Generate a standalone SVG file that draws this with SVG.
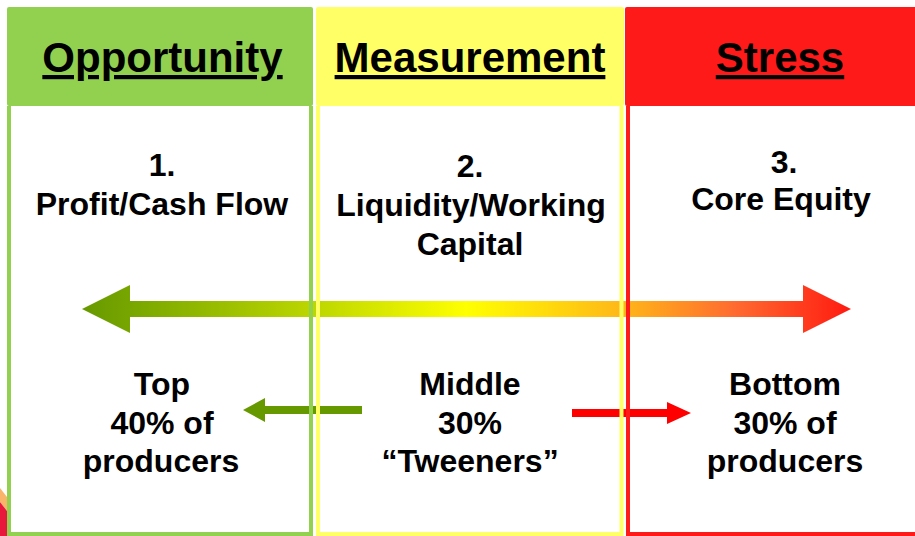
<svg xmlns="http://www.w3.org/2000/svg" width="915" height="536" viewBox="0 0 915 536">
  <defs>
    <linearGradient id="spectrum" gradientUnits="userSpaceOnUse" x1="82" y1="0" x2="851" y2="0">
      <stop offset="0" stop-color="#669900"/>
      <stop offset="0.3" stop-color="#bcd600"/>
      <stop offset="0.5" stop-color="#ffff00"/>
      <stop offset="0.7" stop-color="#ffb818"/>
      <stop offset="0.85" stop-color="#ff6a30"/>
      <stop offset="1" stop-color="#ff1a10"/>
    </linearGradient>
    <style>
      .title { font-family: "Liberation Sans", Arial, sans-serif; font-weight: bold; font-size: 42px; text-anchor: middle; fill: #000; text-decoration: underline; }
      .body { font-family: "Liberation Sans", Arial, sans-serif; font-weight: bold; font-size: 32px; text-anchor: middle; fill: #000; }
      .frame { fill: none; stroke-width: 4; }
    </style>
  </defs>

  <rect width="915" height="536" fill="#ffffff"/>

  <!-- corner ornament at lower left -->
  <polygon points="0,488 7,497 7,511 0,502" fill="#f9b36b"/>
  <polygon points="0,502 7,511 7,536 0,536" fill="#e8183c"/>

  <!-- column bodies -->
  <g id="col-opportunity-bg">
    <rect x="7" y="7" width="306" height="99" rx="2" fill="#92d050"/>
    <rect x="11" y="106" width="298" height="427" fill="#ffffff"/>
  </g>
  <g id="col-measurement-bg">
    <rect x="316" y="7" width="308" height="99" rx="2" fill="#ffff66"/>
    <rect x="320" y="106" width="299" height="427" fill="#ffffff"/>
  </g>
  <g id="col-stress-bg">
    <rect x="625" y="7" width="300" height="99" rx="2" fill="#ff1a1a"/>
    <rect x="630" y="106" width="295" height="427" fill="#ffffff"/>
  </g>

  <!-- connectors -->
  <g id="connectors">
    <polygon id="spectrum-arrow" fill="url(#spectrum)"
      points="82,309 130,285 130,301 803,301 803,285 851,309 803,333 803,317 130,317 130,333"/>
    <polygon id="arrow-to-top" fill="#669900"
      points="243,410 265,398 265,406 362,406 362,414 265,414 265,422"/>
    <polygon id="arrow-to-bottom" fill="#ff0000"
      points="572,409 667,409 667,402 691,413 667,424 667,417 572,417"/>
  </g>

  <!-- column frames drawn over the arrows -->
  <g id="frames">
    <path class="frame" stroke="#92d050" d="M9,106 V534 H311 V106"/>
    <path class="frame" stroke="#ffff66" d="M318,106 V534 H621.5 V106"/>
    <path class="frame" stroke="#ff1a1a" d="M628,106 V534 H925"/>
  </g>

  <g id="opportunity">
    <text class="title" x="162.5" y="72">Opportunity</text>
    <text class="body" x="162" y="176">1.</text>
    <text class="body" x="162" y="215">Profit/Cash Flow</text>
    <text class="body" x="162" y="395">Top</text>
    <text class="body" x="162" y="434">40% of</text>
    <text class="body" x="161" y="472">producers</text>
  </g>

  <g id="measurement">
    <text class="title" x="470" y="72">Measurement</text>
    <text class="body" x="470" y="177">2.</text>
    <text class="body" x="471" y="216">Liquidity/Working</text>
    <text class="body" x="470" y="255">Capital</text>
    <text class="body" x="470" y="395">Middle</text>
    <text class="body" x="470" y="434">30%</text>
    <text class="body" x="470" y="472">“Tweeners”</text>
  </g>

  <g id="stress">
    <text class="title" x="780" y="72">Stress</text>
    <text class="body" x="784" y="173">3.</text>
    <text class="body" x="781" y="210">Core Equity</text>
    <text class="body" x="785" y="395">Bottom</text>
    <text class="body" x="785" y="434">30% of</text>
    <text class="body" x="785" y="472">producers</text>
  </g>
</svg>
